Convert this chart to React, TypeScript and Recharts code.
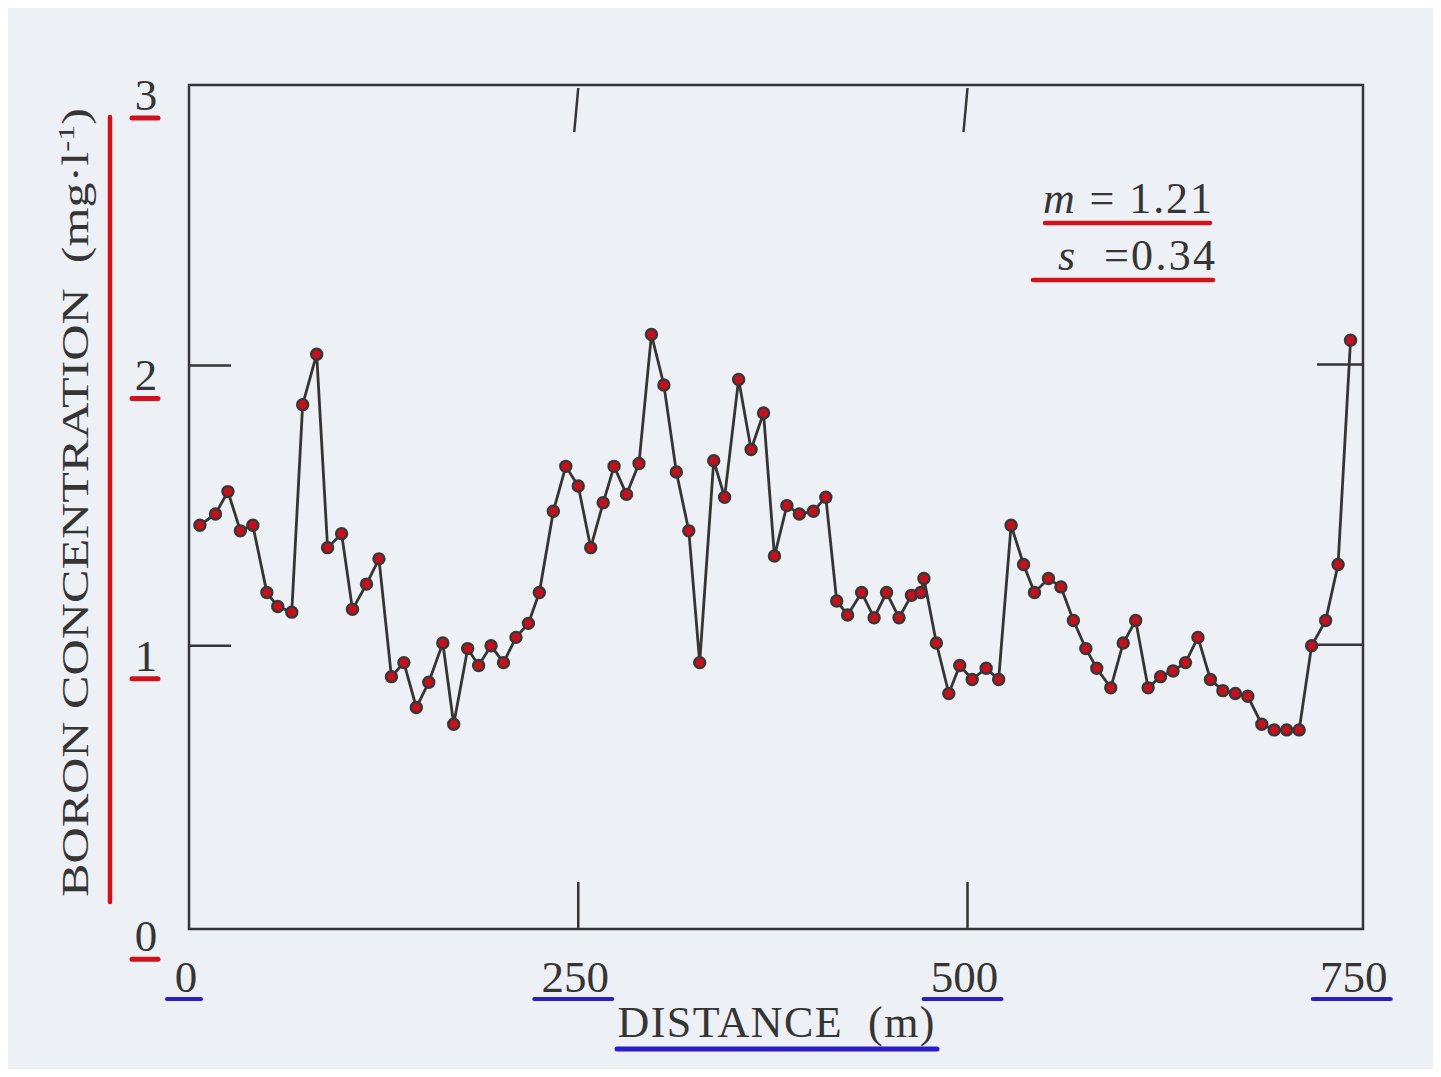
import React from 'react';
import { LineChart, Line, XAxis, YAxis, ReferenceArea } from 'recharts';

// ---- data ----
const distances = [
  7, 17, 25, 33, 41, 50, 57, 66, 73, 82,
  89, 98, 105, 114, 122, 130, 138, 146, 154, 163,
  170, 179, 186, 194, 202, 210, 218, 225, 234, 242,
  250, 258, 266, 273, 281, 289, 297, 305, 313, 321,
  328, 337, 344, 353, 361, 369, 376, 384, 392, 401,
  409, 416, 423, 432, 440, 448, 456, 464, 470, 472,
  480, 488, 495, 503, 512, 520, 528, 536, 543, 552,
  560, 568, 576, 583, 592, 600, 608, 616, 624, 632,
  640, 648, 656, 664, 672, 680, 689, 697, 705, 713,
  721, 730, 738, 746,
];
const boron = [
  1.43, 1.47, 1.55, 1.41, 1.43, 1.19, 1.14, 1.12, 1.86, 2.04,
  1.35, 1.40, 1.13, 1.22, 1.31, 0.89, 0.94, 0.78, 0.87, 1.01,
  0.72, 0.99, 0.93, 1.00, 0.94, 1.03, 1.08, 1.19, 1.48, 1.64,
  1.57, 1.35, 1.51, 1.64, 1.54, 1.65, 2.11, 1.93, 1.62, 1.41,
  0.94, 1.66, 1.53, 1.95, 1.70, 1.83, 1.32, 1.50, 1.47, 1.48,
  1.53, 1.16, 1.11, 1.19, 1.10, 1.19, 1.10, 1.18, 1.19, 1.24,
  1.01, 0.83, 0.93, 0.88, 0.92, 0.88, 1.43, 1.29, 1.19, 1.24,
  1.21, 1.09, 0.99, 0.92, 0.85, 1.01, 1.09, 0.85, 0.89, 0.91,
  0.94, 1.03, 0.88, 0.84, 0.83, 0.82, 0.72, 0.70, 0.70, 0.70,
  1.00, 1.09, 1.29, 2.09,
];
const xTicks = [0, 250, 500, 750];
const yTicks = [0, 1, 2, 3];
const innerXTicks = [250, 500];
const innerYTicks = [1, 2];
const xDomain = [0, 754];
const yDomain = [-0.01, 3];
const xTitle = 'DISTANCE';
const xUnit = '(m)';
const yTitle = 'BORON CONCENTRATION';
const yUnitBase = '(mg·l';
const yUnitSup = '-1';
const statMLabel = 'm';
const statMValue = '1.21';
const statSLabel = 's';
const statSValue = '0.34';

const data = distances.map((d, i) => ({ distance: d, boron: boron[i] }));

// ---- styles / layout ----
const FONT = '"Liberation Serif", "DejaVu Serif", serif';
const INK = '#353535';
const RED = '#cf121c';
const BLUE = '#2b1dc6';
const PAPER = '#edf0f4';

const W = 1425;
const H = 1061;
const M_TOP = 77;
const M_RIGHT = 70;
const Y_AXIS_W = 181;
const X_AXIS_H = 140;
const PLOT_TOP = M_TOP;
const PLOT_BOTTOM = H - X_AXIS_H;
const PLOT_LEFT = Y_AXIS_W;
const PLOT_RIGHT = W - M_RIGHT;

function XTick(props: any) {
  const { x, y, payload } = props;
  const label = String(payload.value);
  const w = label.length * 22 + 12;
  const cx = x - 3;
  const inner = innerXTicks.includes(payload.value);
  return (
    <g>
      {inner && (
        <g stroke={INK} strokeWidth={2.5}>
          <line x1={x} x2={x} y1={PLOT_BOTTOM} y2={PLOT_BOTTOM - 47} />
          <line x1={x} x2={x - 4} y1={PLOT_TOP + 3} y2={PLOT_TOP + 47} />
        </g>
      )}
      <text x={cx} y={y + 63} textAnchor="middle" fontFamily={FONT} fontSize={45} fill={INK}>
        {label}
      </text>
      <line x1={cx - w / 2 - 2} x2={cx + w / 2 - 2} y1={y + 70} y2={y + 70}
        stroke={BLUE} strokeWidth={4} strokeLinecap="round" />
    </g>
  );
}

function YTick(props: any) {
  const { x, y, payload } = props;
  const cx = x - 43;
  const inner = innerYTicks.includes(payload.value);
  return (
    <g>
      {inner && (
        <g stroke={INK} strokeWidth={2.5}>
          <line x1={PLOT_LEFT} x2={PLOT_LEFT + 42} y1={y} y2={y} />
          <line x1={PLOT_RIGHT - 46} x2={PLOT_RIGHT} y1={y - 1} y2={y - 1} />
        </g>
      )}
      <text x={cx} y={y + 25} textAnchor="middle" fontFamily={FONT} fontSize={45} fill={INK}>
        {String(payload.value)}
      </text>
      <line x1={cx - 14} x2={cx + 12} y1={y + 33} y2={y + 33}
        stroke={RED} strokeWidth={5} strokeLinecap="round" />
    </g>
  );
}

function XTitle(props: any) {
  const vb = props.viewBox && props.viewBox.width ? props.viewBox : { x: PLOT_LEFT, y: PLOT_BOTTOM, width: PLOT_RIGHT - PLOT_LEFT, height: X_AXIS_H };
  const cx = vb.x + vb.width / 2;
  const by = vb.y + 108;
  return (
    <g>
      <text x={cx} y={by} textAnchor="middle" fontFamily={FONT} fontSize={44} fill={INK}
        textLength={317} lengthAdjust="spacing">
        {xTitle + '\u00a0\u00a0' + xUnit}
      </text>
      <line x1={cx - 159} x2={cx + 161} y1={by + 12} y2={by + 12}
        stroke={BLUE} strokeWidth={5} strokeLinecap="round" />
    </g>
  );
}

function YTitle(props: any) {
  const vb = props.viewBox && props.viewBox.height ? props.viewBox : { x: 0, y: PLOT_TOP, width: Y_AXIS_W, height: PLOT_BOTTOM - PLOT_TOP };
  const bx = vb.x + 80;
  const startY = vb.y + vb.height - 32;
  return (
    <g>
      <g transform={`translate(${bx},${startY}) rotate(-90)`}>
        <text x={0} y={0} fontFamily={FONT} fontSize={37} fill={INK}
          textLength={789} lengthAdjust="spacingAndGlyphs">
          {yTitle + '\u00a0\u00a0' + yUnitBase}
          <tspan dy={-14} fontSize={24}>{yUnitSup}</tspan>
          <tspan dy={14}>)</tspan>
        </text>
      </g>
      <line x1={vb.x + 102} x2={vb.x + 102} y1={vb.y + 32} y2={vb.y + 817}
        stroke={RED} strokeWidth={4.5} strokeLinecap="round" />
    </g>
  );
}

export default function App() {
  return (
    <div style={{ position: 'relative', width: W, height: H, background: PAPER }}>
      <LineChart width={W} height={H} data={data}
        margin={{ top: M_TOP, right: M_RIGHT, bottom: 0, left: 0 }}>
        <XAxis dataKey="distance" type="number" domain={xDomain} ticks={xTicks}
          allowDataOverflow height={X_AXIS_H} axisLine={false} tickLine={false}
          tickSize={0} tickMargin={0} tick={<XTick />} label={<XTitle />} interval={0} />
        <YAxis type="number" domain={yDomain} ticks={yTicks} allowDataOverflow width={Y_AXIS_W}
          axisLine={false} tickLine={false} tickSize={0} tickMargin={0}
          tick={<YTick />} label={<YTitle />} interval={0} />

        <ReferenceArea x1={xDomain[0]} x2={xDomain[1]} y1={yDomain[0]} y2={yDomain[1]}
          fill="none" fillOpacity={0} stroke={INK} strokeWidth={2.5} />

        <Line type="linear" dataKey="boron" stroke={INK} strokeWidth={2.8}
          dot={{ r: 5.5, fill: '#c8101c', stroke: '#3a3636', strokeWidth: 2.4 }}
          activeDot={false} isAnimationActive={false} />
      </LineChart>

      <svg width={W} height={H} style={{ position: 'absolute', left: 0, top: 0, pointerEvents: 'none' }}>
        <text x={1035} y={205} fontFamily={FONT} fontSize={44} fill={INK}
          textLength={169} lengthAdjust="spacing">
          <tspan fontStyle="italic">{statMLabel}</tspan>
          {'\u00a0=\u00a0' + statMValue}
        </text>
        <line x1={1037} x2={1202} y1={215} y2={215} stroke={RED} strokeWidth={4.5} strokeLinecap="round" />
        <text x={1050} y={262} fontFamily={FONT} fontSize={44} fill={INK}
          textLength={157} lengthAdjust="spacing">
          <tspan fontStyle="italic">{statSLabel}</tspan>
          {'\u00a0\u00a0=' + statSValue}
        </text>
        <line x1={1025} x2={1205} y1={272} y2={272} stroke={RED} strokeWidth={4.5} strokeLinecap="round" />
      </svg>
    </div>
  );
}
